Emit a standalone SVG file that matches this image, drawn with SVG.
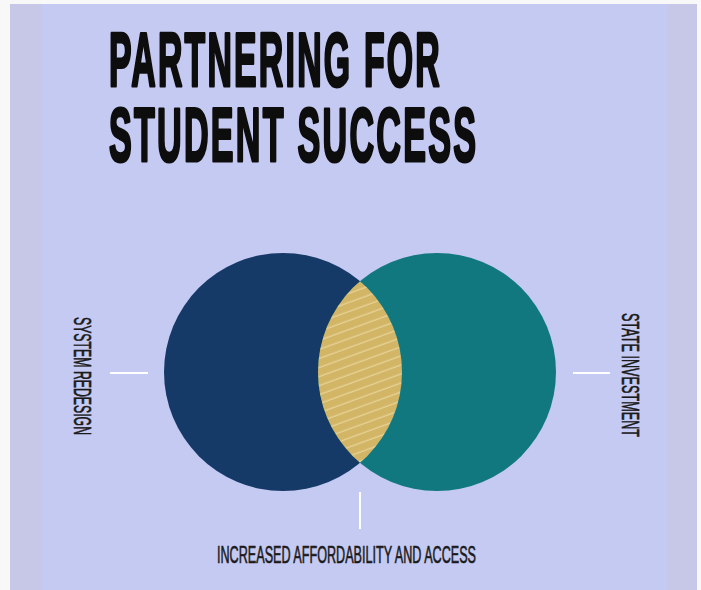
<svg xmlns="http://www.w3.org/2000/svg" width="701" height="590" viewBox="0 0 701 590">
  <style>
    .title { font-family: "Liberation Sans", "DejaVu Sans", sans-serif; font-weight: bold; font-size: 76px; letter-spacing: 5px; fill: #0d0d0d; stroke: #0d0d0d; stroke-width: 3.2px; stroke-linejoin: round; }
    .label { font-family: "Liberation Sans", "DejaVu Sans", sans-serif; font-size: 23px; fill: #1a1a1a; stroke: #1a1a1a; stroke-width: 0.6px; }
    .conn { stroke: #ffffff; stroke-width: 2; fill: none; }
  </style>
  <defs>
    <pattern id="hatch" patternUnits="userSpaceOnUse" width="20" height="8.5" patternTransform="rotate(-20)">
      <rect width="20" height="8.5" fill="#d3b566"/>
      <line x1="0" y1="4" x2="20" y2="4" stroke="#ecdca6" stroke-width="1"/>
    </pattern>
    <clipPath id="leftClip">
      <circle cx="283" cy="372" r="119"/>
    </clipPath>
  </defs>

  <rect x="0" y="0" width="701" height="590" fill="#f8f8f9"/>
  <rect x="10" y="4" width="687" height="586" fill="#c7c7e7"/>
  <rect x="42" y="4" width="625" height="586" fill="#c5caf2"/>

  <g id="title">
    <text class="title" transform="translate(109,86) scale(0.445,1)" x="0" y="0">PARTNERING FOR</text>
    <text class="title" transform="translate(109,161) scale(0.449,1)" x="0" y="0">STUDENT SUCCESS</text>
  </g>

  <g id="connectors">
    <line class="conn" x1="110" y1="373" x2="148" y2="373"/>
    <line class="conn" x1="573" y1="373" x2="610" y2="373"/>
    <line class="conn" x1="360" y1="492" x2="360" y2="529"/>
  </g>

  <g id="system-redesign">
    <circle cx="283" cy="372" r="119" fill="#163a67"/>
    <text class="label" transform="translate(74,317) rotate(90)" x="0" y="0" textLength="118" lengthAdjust="spacingAndGlyphs">SYSTEM REDESIGN</text>
  </g>

  <g id="state-investment">
    <circle cx="437" cy="372" r="119" fill="#127880"/>
    <text class="label" transform="translate(622,313) rotate(90)" x="0" y="0" textLength="124" lengthAdjust="spacingAndGlyphs">STATE INVESTMENT</text>
  </g>

  <g id="overlap">
    <circle cx="437" cy="372" r="119" fill="url(#hatch)" clip-path="url(#leftClip)"/>
    <text class="label" x="217" y="563" font-size="22" textLength="259" lengthAdjust="spacingAndGlyphs">INCREASED AFFORDABILITY AND ACCESS</text>
  </g>
</svg>
